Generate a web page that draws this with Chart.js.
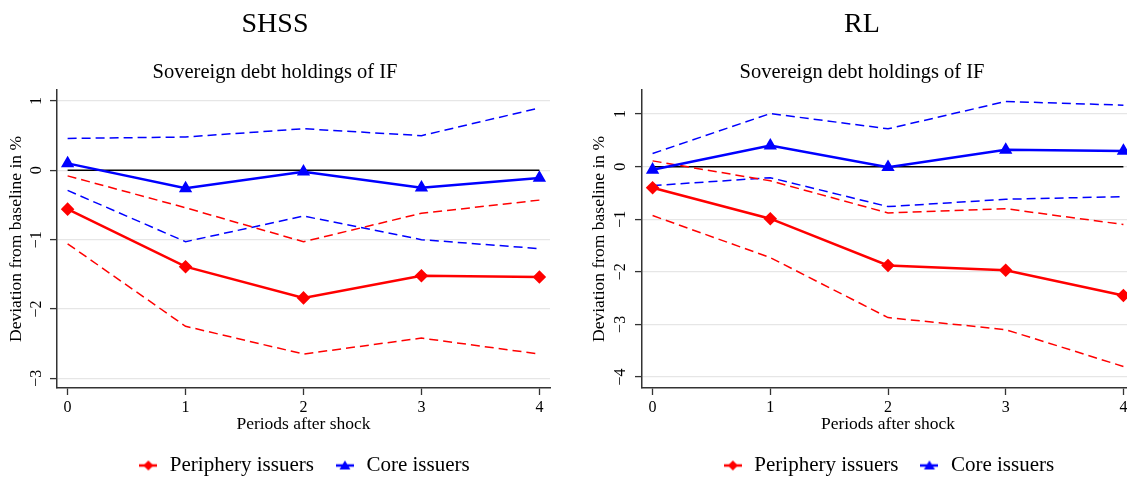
<!DOCTYPE html>
<html>
<head>
<meta charset="utf-8">
<script src="https://cdn.jsdelivr.net/npm/chart.js@4.4.0/dist/chart.umd.min.js"></script>
<style>
  html, body { margin: 0; padding: 0; background: #fff; overflow: hidden; }
  body { width: 1127px; height: 477px; position: relative; }
  .panel { position: absolute; top: 0; height: 486px; }
</style>
</head>
<body>
<div class="panel" style="left:0;width:556px"><canvas id="shss"></canvas></div>
<div class="panel" style="left:590px;width:544px"><canvas id="rl"></canvas></div>
<script>
const periods = [0, 1, 2, 3, 4];

// SHSS panel
const shssPeriphery = [-0.56, -1.39, -1.84, -1.52, -1.54];
const shssPeripheryUp = [-0.08, -0.54, -1.03, -0.62, -0.43];
const shssPeripheryLo = [-1.06, -2.25, -2.65, -2.42, -2.65];
const shssCore = [0.10, -0.26, -0.02, -0.25, -0.11];
const shssCoreUp = [0.46, 0.48, 0.60, 0.50, 0.90];
const shssCoreLo = [-0.29, -1.03, -0.66, -1.00, -1.13];

// RL panel
const rlPeriphery = [-0.40, -0.99, -1.88, -1.97, -2.45];
const rlPeripheryUp = [0.11, -0.27, -0.88, -0.80, -1.10];
const rlPeripheryLo = [-0.93, -1.73, -2.87, -3.10, -3.80];
const rlCore = [-0.06, 0.40, -0.01, 0.32, 0.30];
const rlCoreUp = [0.25, 1.01, 0.72, 1.24, 1.17];
const rlCoreLo = [-0.36, -0.21, -0.76, -0.62, -0.57];

const red = '#ff0000';
const blue = '#0000ff';

Chart.defaults.font.family = '"Liberation Serif", "Times New Roman", serif';
Chart.defaults.color = '#000';

function pts(vals) {
  return vals.map((v, i) => ({ x: periods[i], y: v }));
}

function legendIcon(color, shape) {
  const c = document.createElement('canvas');
  c.width = 18; c.height = 14;
  const g = c.getContext('2d');
  g.strokeStyle = color; g.fillStyle = color; g.lineWidth = 2.5;
  g.beginPath(); g.moveTo(0, 7); g.lineTo(18, 7); g.stroke();
  g.beginPath();
  if (shape === 'diamond') {
    g.moveTo(9, 2); g.lineTo(14, 7); g.lineTo(9, 12); g.lineTo(4, 7);
  } else {
    g.moveTo(9, 2); g.lineTo(14.5, 11); g.lineTo(3.5, 11);
  }
  g.closePath(); g.fill();
  return c;
}

// stata style y labels, turned on their side
const rotatedTicks = {
  id: 'rotatedTicks',
  afterDraw(chart, args, opts) {
    const y = chart.scales.y;
    const ctx = chart.ctx;
    ctx.save();
    ctx.font = '16px "Liberation Serif"';
    ctx.fillStyle = '#000';
    ctx.textAlign = 'center';
    ctx.textBaseline = 'middle';
    y.ticks.forEach(t => {
      ctx.save();
      ctx.translate(y.right - opts.offset, y.getPixelForValue(t.value));
      ctx.rotate(-Math.PI / 2);
      ctx.fillText(String(t.value).replace('-', '\u2212'), 0, 0);
      ctx.restore();
    });
    ctx.restore();
  }
};

function makeChart(id, name, s, yMin, yMax, yWidth, yTitlePad, padRight, tickOffset) {
  const dashed = (vals, color) => ({
    data: pts(vals), borderColor: color, borderWidth: 1.5, borderDash: [9, 5],
    pointRadius: 0, order: 1
  });
  return new Chart(document.getElementById(id), {
    type: 'line',
    data: {
      datasets: [
        { label: 'Periphery issuers', data: pts(s[0]), borderColor: red, backgroundColor: red,
          borderWidth: 2.5, pointStyle: 'rectRot', pointRadius: 5, order: 0 },
        { label: 'Core issuers', data: pts(s[3]), borderColor: blue, backgroundColor: blue,
          borderWidth: 2.5, pointStyle: 'triangle', pointRadius: 5.2, order: 0 },
        dashed(s[1], red), dashed(s[2], red),
        dashed(s[4], blue), dashed(s[5], blue),
        { data: [{ x: 0, y: 0 }, { x: 4, y: 0 }], borderColor: '#000', borderWidth: 1.5,
          pointRadius: 0, order: 2 }
      ]
    },
    options: {
      responsive: true,
      maintainAspectRatio: false,
      animation: false,
      clip: false,
      layout: { padding: { left: 0, right: padRight, top: 0, bottom: 0 }, autoPadding: false },
      scales: {
        x: {
          type: 'linear', min: -0.09, max: 4.09,
          ticks: { stepSize: 1, includeBounds: false, font: { size: 16 }, padding: 3, color: '#000' },
          grid: { drawOnChartArea: false, drawTicks: true, tickLength: 7, tickColor: '#333', tickWidth: 1.3 },
          border: { color: '#333', width: 1.5 },
          title: { display: true, text: 'Periods after shock', font: { size: 17.5 }, padding: { top: 0, bottom: 0 }, color: '#000' },
          afterFit: sc => { sc.height = 47; }
        },
        y: {
          min: yMin, max: yMax,
          ticks: { stepSize: 1, includeBounds: false, display: false },
          grid: { color: '#e6e6e6', lineWidth: 1.2, drawTicks: true, tickLength: 7, tickColor: '#333', tickWidth: 1.3 },
          border: { color: '#333', width: 1.5 },
          title: { display: true, text: 'Deviation from baseline in %', font: { size: 17.5, lineHeight: 1 },
                   padding: { top: yTitlePad, bottom: 0 }, color: '#000' },
          afterFit: sc => { sc.width = yWidth; }
        }
      },
      plugins: {
        title: { display: true, text: name, font: { size: 28, weight: 'normal' }, color: '#000',
                 padding: { top: 8, bottom: 8 } },
        subtitle: { display: true, text: 'Sovereign debt holdings of IF', font: { size: 20.5 }, color: '#000',
                    padding: { top: 11, bottom: 4.7 } },
        legend: {
          position: 'bottom', fullSize: false,
          labels: {
            usePointStyle: true, pointStyleWidth: 22, padding: 20,
            font: { size: 21 }, color: '#000',
            generateLabels: () => [
              { text: 'Periphery issuers', pointStyle: legendIcon(red, 'diamond'), lineWidth: 0, datasetIndex: 0 },
              { text: 'Core issuers', pointStyle: legendIcon(blue, 'triangle'), lineWidth: 0, datasetIndex: 1 }
            ]
          }
        },
        tooltip: { enabled: false },
        rotatedTicks: { offset: tickOffset }
      }
    },
    plugins: [rotatedTicks]
  });
}

makeChart('shss', 'SHSS',
  [shssPeriphery, shssPeripheryUp, shssPeripheryLo, shssCore, shssCoreUp, shssCoreLo],
  -3.14, 1.16, 57, 8, 6, 20);
makeChart('rl', 'RL',
  [rlPeriphery, rlPeripheryUp, rlPeripheryLo, rlCore, rlCoreUp, rlCoreLo],
  -4.21, 1.46, 52, 1, 0, 21);
</script>
</body>
</html>
